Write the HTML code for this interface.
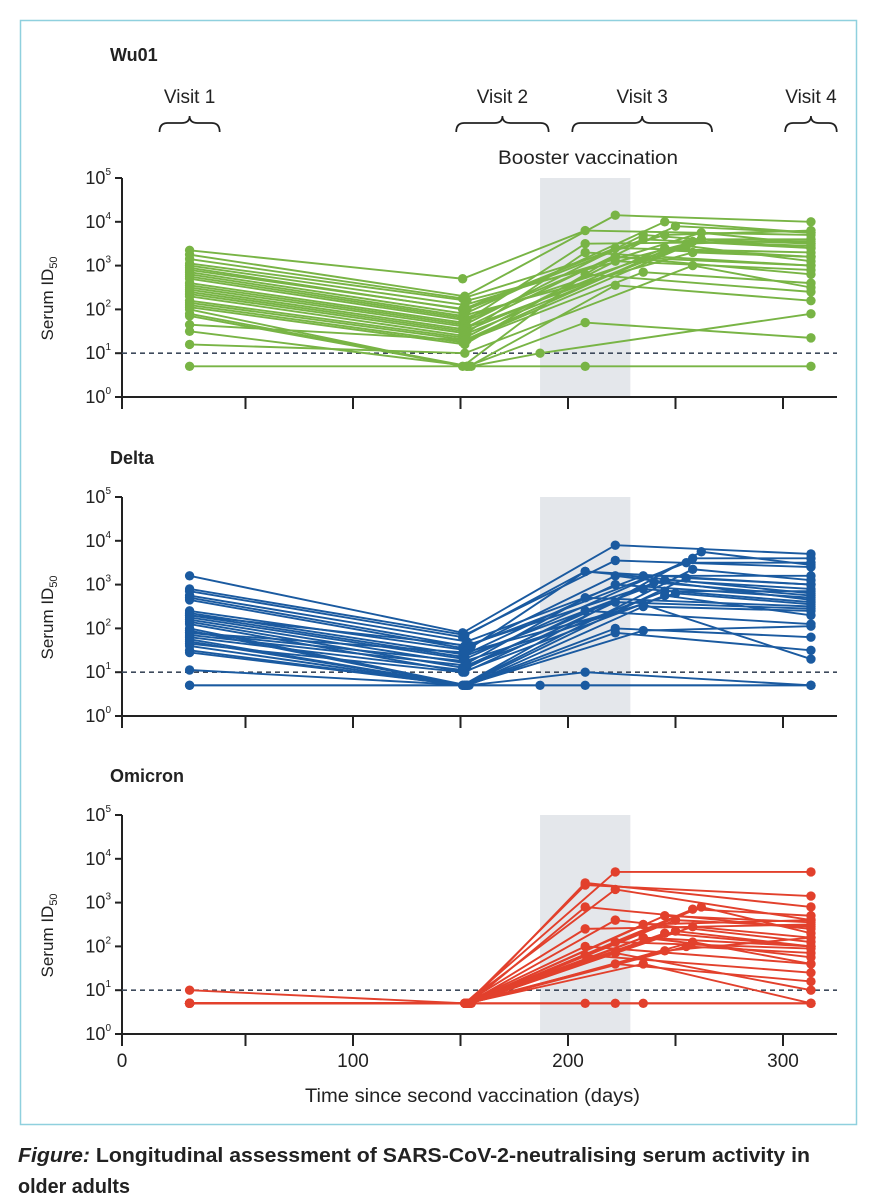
<!DOCTYPE html>
<html><head><meta charset="utf-8">
<style>
html,body{margin:0;padding:0;background:#fff;width:879px;height:1200px;overflow:hidden}
svg{display:block}
text{font-family:"Liberation Sans",sans-serif}
</style></head>
<body>
<svg id="fig" width="879" height="1200" viewBox="0 0 879 1200" xmlns="http://www.w3.org/2000/svg">
<rect x="20.5" y="20.5" width="836" height="1104" fill="none" stroke="#8fd0de" stroke-width="1.5"/>
<g id="plots"></g>
<text x="305" y="1102" font-size="19" textLength="335" lengthAdjust="spacingAndGlyphs" fill="#222">Time since second vaccination (days)</text>
<text x="18" y="1162" font-size="20" font-weight="bold" textLength="792" lengthAdjust="spacingAndGlyphs" fill="#222"><tspan font-style="italic">Figure:</tspan> Longitudinal assessment of SARS-CoV-2-neutralising serum activity in</text>
<text x="18" y="1193" font-size="20" font-weight="bold" textLength="112" lengthAdjust="spacingAndGlyphs" fill="#222">older adults</text>
</svg>
<script>
// ---------- data (log10 serum ID50) ----------
const panelNames = ["Wu01", "Delta", "Omicron"];
const xTickValues = [0, 50, 100, 150, 200, 250, 300];
const xTickLabels = ["0", "", "100", "", "200", "", "300"];
const yTickExps = [0, 1, 2, 3, 4, 5];
const boosterWindow = [187, 229];
const detectionLimit = 1;

const wuV1 = [3.35,3.25,3.15,3.05,3.0,2.95,2.9,2.85,2.8,2.75,2.7,2.6,2.55,2.5,2.45,2.4,2.35,2.3,2.2,2.15,2.1,2.05,2.0,1.9,1.85,1.65,1.5,1.2,0.7];
const wuV2 = [2.7,2.3,2.25,2.2,2.1,2.0,2.0,1.9,1.85,1.8,1.75,1.7,1.65,1.6,1.55,1.5,1.45,1.4,1.35,1.3,1.25,1.2,0.7,0.7,0.7,1.3,0.7,1.0,0.7];
const wuV3 = [3.8,4.15,3.7,3.5,3.75,3.4,3.6,4.0,3.3,3.6,3.5,3.2,3.7,3.9,3.45,3.4,3.55,3.3,3.1,3.6,2.85,3.2,2.8,2.55,1.7,3.35,1.0,3.0,0.7];
const wuV3Day = [208,222,245,255,262,222,235,245,258,262,208,222,235,250,255,245,258,208,222,262,235,222,208,222,208,245,187,258,208];
const wuV4 = [3.7,4.0,3.8,3.6,3.5,3.3,3.4,3.75,3.2,3.6,3.55,3.0,3.4,3.75,3.1,3.2,3.45,3.0,2.9,3.5,2.6,2.8,2.4,2.2,1.35,3.2,1.9,2.5,0.7];
const wuV1Day = [24,24,24,24,24,24,24,24,24,24,24,24,24,24,24,24,24,24,24,24,24,24,24,24,24,24,24,24,24];
const wuV2Day = [151,152,151,153,152,151,153,152,151,152,153,151,152,153,151,152,153,151,152,153,151,152,151,154,153,152,155,152,153];
const wuV4Day = [313,313,313,313,313,313,313,313,313,313,313,313,313,313,313,313,313,313,313,313,313,313,313,313,313,313,313,313,313];

const deV1 = [3.2,2.9,2.85,2.75,2.7,2.65,2.4,2.35,2.3,2.25,2.2,2.15,2.1,2.0,1.95,1.9,1.85,1.8,1.75,1.7,1.65,1.6,1.5,1.05,0.7,1.9,2.3,1.45,0.7];
const deV2 = [1.9,1.85,1.8,1.7,1.6,1.55,1.5,1.4,1.35,1.3,1.2,1.1,1.0,0.7,0.7,1.25,1.15,1.05,0.7,0.7,1.0,0.7,0.7,0.7,0.7,1.45,1.6,0.7,0.7];
const deV3 = [3.9,3.55,3.3,3.2,3.1,3.5,3.3,3.0,2.9,3.6,2.7,2.85,2.6,2.5,3.75,2.8,3.05,2.4,2.0,1.9,2.75,3.15,3.35,1.0,0.7,2.55,3.2,1.95,0.7];
const deV3Day = [222,222,208,235,245,255,208,222,235,258,208,245,222,235,262,250,240,208,222,222,245,255,258,208,187,235,222,235,208];
const deV4 = [3.7,3.4,3.0,3.2,2.9,3.5,2.8,2.7,2.6,3.6,2.5,2.85,2.45,2.4,3.45,2.55,2.75,2.1,1.8,1.5,2.3,3.0,3.1,0.7,0.7,1.3,2.65,2.05,0.7];
const deV1Day = wuV1Day.slice();
const deV2Day = wuV2Day.slice();
const deV4Day = wuV4Day.slice();

const omV1 = [1.0,0.7,0.7,0.7,0.7,0.7,0.7,0.7,0.7,0.7,0.7,0.7,0.7,0.7,0.7,0.7,0.7,0.7,0.7,0.7,0.7,0.7,0.7,0.7,0.7,0.7,0.7,0.7,0.7];
const omV2 = [0.7,0.7,0.7,0.7,0.7,0.7,0.7,0.7,0.7,0.7,0.7,0.7,0.7,0.7,0.7,0.7,0.7,0.7,0.7,0.7,0.7,0.7,0.7,0.7,0.7,0.7,0.7,0.7,0.7];
const omV3 = [3.7,3.4,3.3,2.9,2.6,2.4,2.2,2.1,2.0,1.9,1.8,1.6,2.6,2.85,2.3,2.5,2.9,2.0,2.2,2.7,2.45,1.85,1.6,3.45,0.7,0.7,2.1,2.35,0.7];
const omV3Day = [222,208,222,208,222,208,235,222,208,245,208,222,250,258,245,235,262,255,235,245,258,222,235,208,208,235,258,250,222];
const omV4 = [3.7,3.15,2.6,2.4,2.1,2.5,2.0,1.95,1.6,2.2,1.4,1.2,2.45,2.7,2.0,2.6,2.3,1.85,1.75,2.55,2.2,1.0,0.7,2.9,0.7,0.7,1.6,2.0,0.7];
const omV1Day = wuV1Day.slice();
const omV2Day = [152,153,152,154,153,152,155,153,152,154,153,152,153,154,152,153,155,154,152,153,154,152,153,154,153,152,154,153,152];
const omV4Day = wuV4Day.slice();

const panelColors = ["#78b445", "#1a5aa0", "#e2402c"];
const panelTops = [178, 497, 815];

// ---------- drawing ----------
const NS = "http://www.w3.org/2000/svg";
const root = document.getElementById("plots");
const axisLeft = 122, axisRight = 837, decadePx = 43.8;
function xScale(d){ return 138 + 2.15 * d; }
function mk(tag, attrs, parent){
  const e = document.createElementNS(NS, tag);
  for (const k in attrs) e.setAttribute(k, attrs[k]);
  (parent || root).appendChild(e);
  return e;
}
const panelData = [
  [wuV1Day, wuV1, wuV2Day, wuV2, wuV3Day, wuV3, wuV4Day, wuV4],
  [deV1Day, deV1, deV2Day, deV2, deV3Day, deV3, deV4Day, deV4],
  [omV1Day, omV1, omV2Day, omV2, omV3Day, omV3, omV4Day, omV4]
];

panelNames.forEach((name, p) => {
  const top = panelTops[p];
  const base = top + 5 * decadePx;
  const yScale = v => base - v * decadePx;
  const g = mk("g", {});
  
  

  const shade = mk("rect", {x: xScale(boosterWindow[0]), y: top, width: xScale(boosterWindow[1]) - xScale(boosterWindow[0]), height: base - top, fill: "#e4e7eb"}, g);
  
  

  const title = mk("text", {x: 110, y: p === 0 ? 61 : top - 33, "font-size": 18, "font-weight": "bold", fill: "#222"}, g);
  title.textContent = name;
  
  

  const yl = mk("text", {x: 0, y: 0, "font-size": 17, fill: "#222", "text-anchor": "middle", transform: "translate(53," + (top + 2.75*decadePx) + ") rotate(-90)"}, g);
  yl.innerHTML = 'Serum ID<tspan font-size="11" dy="4">50</tspan>';
  
  

  const ya = mk("line", {x1: axisLeft, x2: axisLeft, y1: top, y2: base + 10, stroke: "#222", "stroke-width": 2}, g);
  
  
  yTickExps.forEach(e => {
    const y = yScale(e);
    const t = mk("line", {x1: axisLeft - 7, x2: axisLeft, y1: y, y2: y, stroke: "#222", "stroke-width": 2}, g);
    
    
    const tx = mk("text", {x: axisLeft - 11, y: y + 6, "font-size": 18, "text-anchor": "end", fill: "#222"}, g);
    tx.innerHTML = '10<tspan font-size="10" dy="-9">' + e + '</tspan>';
    
    
  });
  const xa = mk("line", {x1: axisLeft - 1, x2: axisRight, y1: base, y2: base, stroke: "#222", "stroke-width": 2}, g);
  
  
  xTickValues.forEach((v, i) => {
    const x = v === 0 ? axisLeft : xScale(v);
    const t = mk("line", {x1: x, x2: x, y1: base, y2: base + 12, stroke: "#222", "stroke-width": 2}, g);
    
    
    if (p === 2 && xTickLabels[i]) {
      const tx = mk("text", {x: x, y: base + 33, "font-size": 19, "text-anchor": "middle", fill: "#222"}, g);
      tx.textContent = xTickLabels[i];
      
      
    }
  });
  const dl = mk("line", {x1: axisLeft, x2: axisRight, y1: yScale(detectionLimit), y2: yScale(detectionLimit), stroke: "#3e4a5c", "stroke-width": 1.6, "stroke-dasharray": "5,4"}, g);
  
  

  const d = panelData[p];
  const col = panelColors[p];
  const n = d[1].length;
  for (let s = 0; s < n; s++) {
    const pts = [];
    for (let k = 0; k < 4; k++) pts.push([xScale(d[2*k][s]), yScale(d[2*k+1][s])]);
    const pl = mk("polyline", {points: pts.map(q => q.join(",")).join(" "), fill: "none", stroke: col, "stroke-width": 1.9}, g);
    
    
    pts.forEach(q => {
      const c = mk("circle", {cx: q[0], cy: q[1], r: 4.7, fill: col}, g);
      
      
    });
  }
});

// visit labels and braces (top panel)
const visitNames = ["Visit 1", "Visit 2", "Visit 3", "Visit 4"];
const visitSpans = [[10, 38], [148, 191], [202, 267], [301, 325]];
visitNames.forEach((v, i) => {
  const x1 = xScale(visitSpans[i][0]), x2 = xScale(visitSpans[i][1]), xm = (x1 + x2) / 2;
  const t = mk("text", {x: xm, y: 103, "font-size": 19, "text-anchor": "middle", fill: "#222"});
  t.textContent = v;
  
  
  const y0 = 132, y1 = 123;
  const path = `M${x1},${y0} Q${x1},${y1} ${x1+8},${y1} L${xm-8},${y1} Q${xm},${y1} ${xm},${y1-7} Q${xm},${y1} ${xm+8},${y1} L${x2-8},${y1} Q${x2},${y1} ${x2},${y0}`;
  const b = mk("path", {d: path, fill: "none", stroke: "#222", "stroke-width": 1.7});
  
  
});
const bt = mk("text", {x: 498, y: 164, "font-size": 19, textLength: 180, lengthAdjust: "spacingAndGlyphs", fill: "#222"});
bt.textContent = "Booster vaccination";


</script>
</body></html>
